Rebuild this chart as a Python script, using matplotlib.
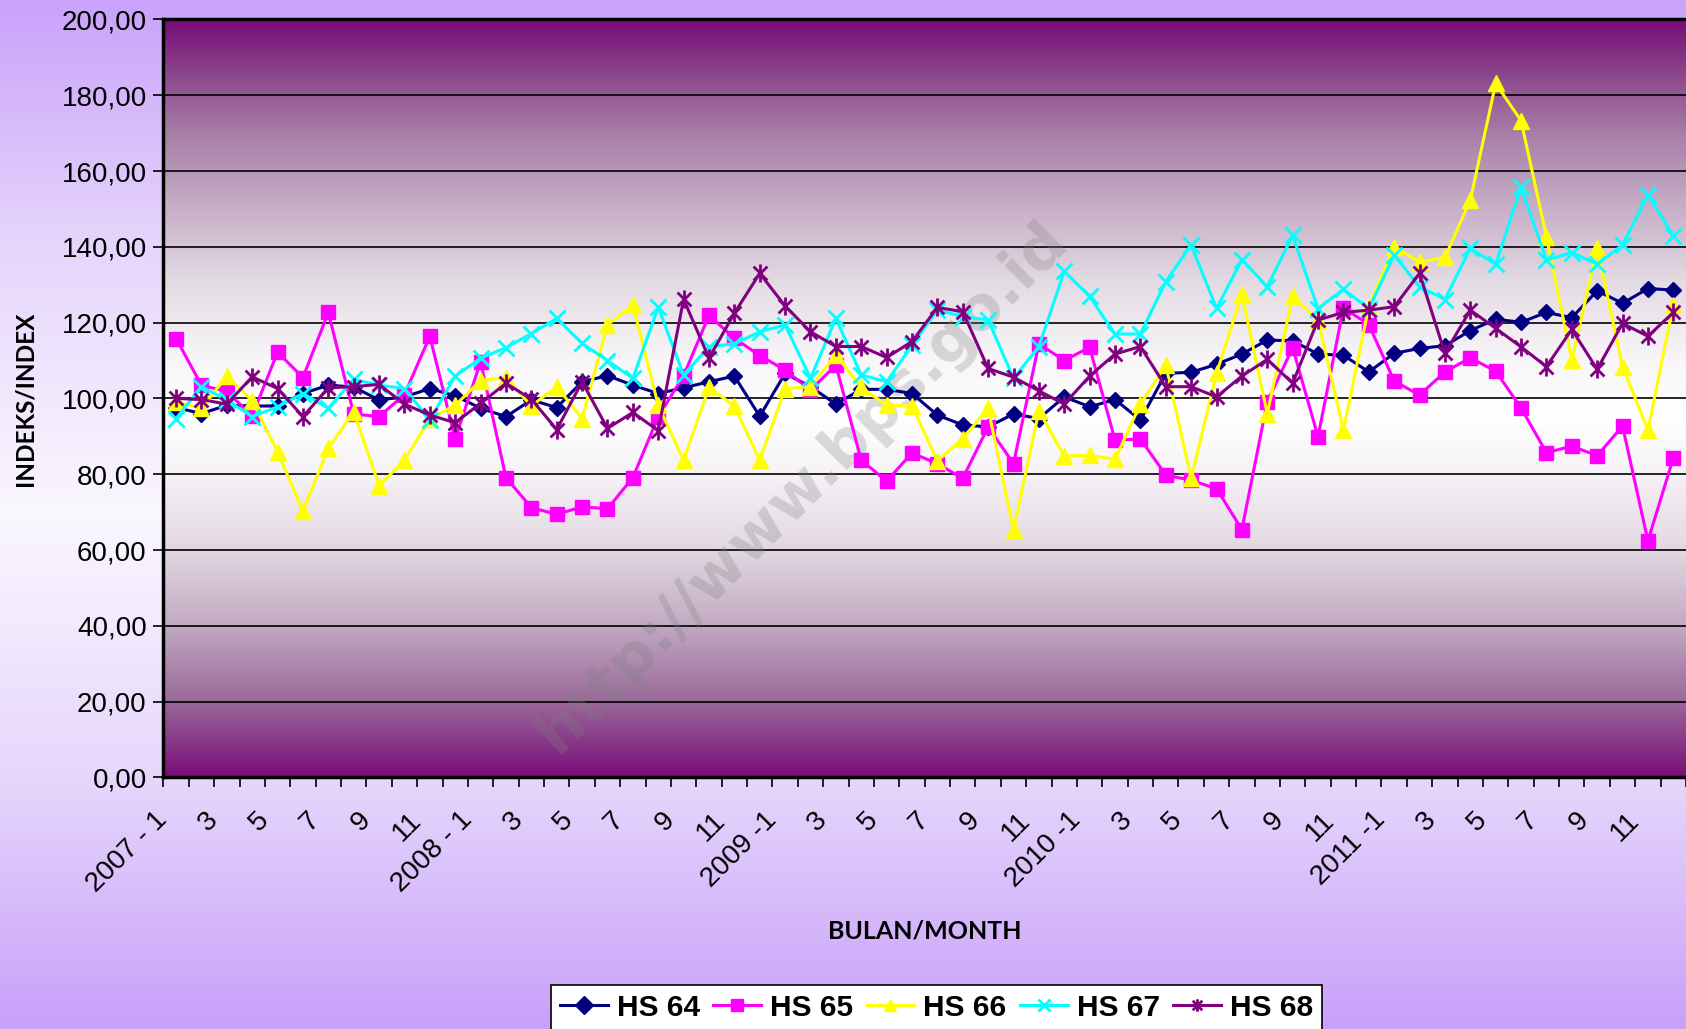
import numpy as np
import matplotlib
matplotlib.use("Agg")
import matplotlib.pyplot as plt
import matplotlib.transforms as mtransforms
from matplotlib.colors import LinearSegmentedColormap
from matplotlib.path import Path

# Bulan 2007-1 s/d 2011-12
bulan = list(range(60))
label_bulan = ["2007 - 1", "3", "5", "7", "9", "11",
               "2008 - 1", "3", "5", "7", "9", "11",
               "2009 -1", "3", "5", "7", "9", "11",
               "2010 -1", "3", "5", "7", "9", "11",
               "2011 -1", "3", "5", "7", "9", "11"]

hs64 = [97.6, 96.0, 98.2, 98.0, 98.0, 101.3, 103.5, 103.0, 99.6, 100.4,
        102.6, 100.7, 97.4, 95.2, 99.6, 97.6, 104.4, 106.0, 103.5, 101.3,
        102.8, 104.4, 105.9, 95.3, 106.6, 103.1, 98.5, 102.4, 102.4, 101.3,
        95.6, 93.0, 92.5, 95.9, 94.7, 100.4, 97.8, 99.7, 94.3, 106.6,
        106.9, 109.0, 111.7, 115.4, 115.2, 111.7, 111.4, 107.0, 111.9, 113.2,
        113.9, 117.9, 120.9, 120.1, 122.7, 121.3, 128.4, 125.1, 129.0, 128.6]

hs65 = [115.8, 103.5, 101.8, 95.4, 112.2, 105.5, 122.7, 95.9, 95.2, 101.0,
        116.4, 89.3, 109.7, 79.1, 71.2, 69.4, 71.4, 70.9, 79.1, 95.2,
        106.0, 121.9, 115.9, 111.3, 107.5, 102.2, 108.8, 83.7, 78.2, 85.6,
        82.8, 78.9, 92.5, 82.8, 114.4, 110.0, 113.5, 89.0, 89.3, 79.8,
        78.4, 76.2, 65.4, 99.1, 113.4, 89.9, 123.9, 119.5, 104.6, 100.9,
        107.0, 110.7, 107.2, 97.5, 85.7, 87.4, 84.9, 92.7, 62.4, 84.3]

hs66 = [99.1, 97.4, 105.9, 99.4, 85.9, 70.3, 86.8, 96.5, 77.0, 83.7,
        94.7, 98.2, 104.7, 105.5, 98.0, 103.1, 94.7, 119.4, 124.7, 98.2,
        83.7, 102.9, 98.0, 83.7, 102.6, 103.1, 111.5, 102.9, 98.2, 98.0,
        83.5, 89.4, 97.4, 65.2, 96.7, 84.8, 85.0, 83.9, 98.5, 108.8,
        78.9, 106.6, 127.5, 96.0, 126.9, 120.7, 91.6, 124.2, 140.0, 136.0,
        137.2, 152.3, 183.1, 173.3, 142.7, 110.1, 139.6, 108.4, 91.6, 124.6]

hs67 = [94.7, 103.1, 99.6, 95.2, 97.8, 101.3, 97.4, 105.0, 103.5, 102.6,
        94.3, 105.9, 110.6, 113.4, 117.1, 121.1, 114.5, 110.0, 105.3, 124.1,
        106.2, 113.7, 114.4, 117.6, 119.4, 105.3, 121.1, 106.2, 104.4, 114.0,
        123.3, 121.6, 120.7, 105.3, 113.7, 133.5, 126.9, 117.0, 117.0, 130.8,
        140.5, 123.8, 136.6, 129.5, 143.0, 123.7, 128.8, 123.7, 137.8, 129.5,
        126.1, 139.6, 135.4, 155.7, 136.5, 138.5, 135.4, 140.5, 153.8, 142.9]

hs68 = [100.0, 99.7, 98.5, 105.7, 102.6, 95.2, 102.8, 103.1, 103.7, 98.5,
        95.6, 93.6, 98.7, 104.0, 99.8, 91.8, 104.4, 92.1, 96.3, 91.5,
        126.2, 110.6, 122.5, 133.0, 124.4, 117.6, 113.7, 113.7, 110.8, 115.0,
        124.0, 122.9, 107.9, 105.6, 102.0, 98.5, 105.9, 111.7, 113.7, 103.1,
        103.1, 100.4, 105.9, 110.3, 104.0, 120.7, 122.7, 123.3, 124.2, 133.0,
        111.9, 123.3, 118.5, 113.6, 108.4, 118.2, 107.7, 119.8, 116.4, 122.7]

# marker bintang ala Excel (X + garis tegak)
bintang = Path([(-1, -1), (1, 1), (-1, 1), (1, -1), (0, -1.3), (0, 1.3)],
               [Path.MOVETO, Path.LINETO, Path.MOVETO, Path.LINETO, Path.MOVETO, Path.LINETO])

seri = [
    ("HS 64", hs64, "#000080", "D", 8.5, {}),
    ("HS 65", hs65, "#ff00ff", "s", 10.5, {}),
    ("HS 66", hs66, "#ffff00", "^", 12, {}),
    ("HS 67", hs67, "#00ffff", "x", 11, {"markeredgewidth": 2}),
    ("HS 68", hs68, "#800080", bintang, 13, {"markeredgewidth": 2, "fillstyle": "none"}),
]

plt.rcParams['font.family'] = ['Liberation Sans', 'DejaVu Sans']

fig = plt.figure(figsize=(16.86, 10.29), dpi=100)

# latar belakang gambar (gradasi ungu muda)
bg = fig.add_axes([0, 0, 1, 1], zorder=-10)
bg_cmap = LinearSegmentedColormap.from_list(
    "bgfig", [(0.0, "#c9a0fa"), (0.24, "#e6d6fc"), (0.5, "#faf7ff"),
              (0.76, "#e6d6fc"), (1.0, "#caa2fa")])
bg.imshow(np.linspace(0, 1, 256).reshape(-1, 1), cmap=bg_cmap, aspect="auto",
          extent=[0, 1, 0, 1], origin="lower")
bg.set_axis_off()

ax = fig.add_axes([0.0969, 0.2445, 0.9031, 0.7366])

# gradasi area plot
plot_cmap = LinearSegmentedColormap.from_list(
    "plotbg", [(0.0, "#7a0f7a"), (0.1, "#9a6a9a"), (0.2, "#c2aac2"),
               (0.3, "#e2d8e2"), (0.4, "#f6f2f6"), (0.475, "#ffffff"),
               (0.55, "#f8f6f8"), (0.65, "#e4dce4"), (0.75, "#c8b0c8"),
               (0.85, "#a77ea7"), (0.925, "#8c4a8c"), (1.0, "#770c78")])
ax.imshow(np.linspace(0, 1, 512).reshape(-1, 1), cmap=plot_cmap, aspect="auto",
          extent=[-0.5, 59.5, 0, 200], origin="lower", zorder=0)

for y in range(20, 200, 20):
    ax.axhline(y, color="black", lw=1.2, zorder=1)

for nama, nilai, warna, mk, ms, extra in seri:
    ax.plot(bulan, nilai, color=warna, lw=2.2, marker=mk, markersize=ms,
            markerfacecolor=warna, markeredgecolor=warna, label=nama, zorder=3, **extra)

ax.set_xlim(-0.5, 59.5)
ax.set_ylim(0, 200)

ax.set_yticks(range(0, 201, 20))
ax.set_yticklabels([f"{v},00" for v in range(0, 201, 20)], fontsize=20)
ax.tick_params(axis="y", length=7, width=1.2, pad=5)

ax.set_xticks(np.arange(-0.5, 60, 1), minor=True)
ax.set_xticks(range(0, 60, 2))
ax.set_xticklabels(label_bulan, rotation=45, ha="right", rotation_mode="anchor", fontsize=20)
ax.tick_params(axis="x", which="major", length=0, pad=4)
ax.tick_params(axis="x", which="minor", length=7, width=1.2)
geser = mtransforms.ScaledTranslation(-0.22, -0.24, fig.dpi_scale_trans)
for t in ax.get_xticklabels():
    t.set_transform(t.get_transform() + geser)

for s in ["left", "bottom", "top"]:
    ax.spines[s].set_linewidth(2.5)
ax.spines["right"].set_visible(False)

ax.set_ylabel("INDEKS/INDEX", fontsize=17.5, fontweight="bold", family="Lato")
ax.set_xlabel("BULAN/MONTH", fontsize=18, fontweight="bold", family="Lato")
ax.yaxis.set_label_coords(-0.083, 0.5)
ax.xaxis.set_label_coords(0.5, -0.188)

# watermark
ax.text(0.476, 0.527, "http://www.bps.go.id", transform=fig.transFigure, rotation=45,
        fontsize=44, fontweight="bold", color="gray", alpha=0.28,
        ha="center", va="center", family="DejaVu Sans", zorder=2)

leg = fig.legend(loc="lower center", bbox_to_anchor=(0.5555, -0.016), ncol=5,
                 frameon=True, fancybox=False, edgecolor="black", framealpha=1,
                 handlelength=1.6, columnspacing=0.45, handletextpad=0.3,
                 borderpad=0.3, prop={"family": ["Liberation Sans Narrow", "Liberation Sans"],
                                      "weight": "bold", "size": 21.5})
leg.get_frame().set_linewidth(1.2)
for h in leg.legend_handles:
    h.set_markersize(9)

fig.savefig("out.png", dpi=100)
